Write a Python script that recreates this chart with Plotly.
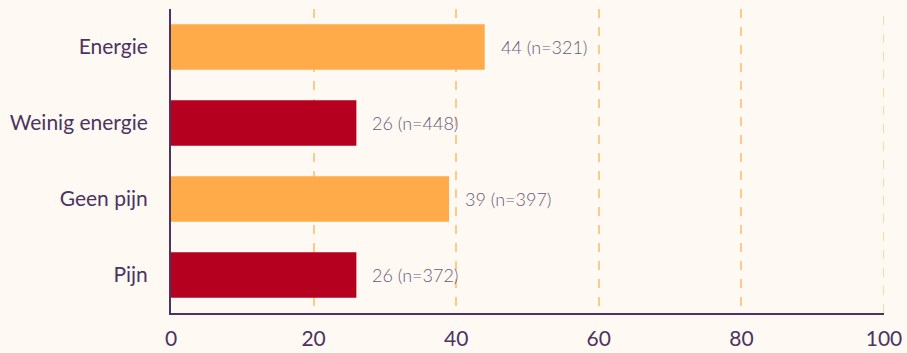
import plotly.graph_objects as go

categories = ["Energie", "Weinig energie", "Geen pijn", "Pijn"]
values = [44, 26, 39, 26]
counts = [321, 448, 397, 372]
colors = ["#FFAB4A", "#B5001F", "#FFAB4A", "#B5001F"]
x_ticks = [0, 20, 40, 60, 80, 100]

bg = "#FFF9F3"
txt = "#4B3462"
lbl = "#67597A"
grid = "#FFC98A"

fig = go.Figure()
fig.add_trace(go.Bar(
    y=categories, x=values, orientation="h",
    marker=dict(color=colors, line=dict(width=0)),
    width=0.6, hoverinfo="skip",
))
for c, v, n in zip(categories, values, counts):
    fig.add_annotation(x=v, y=c, text=f"{v} (n={n})", showarrow=False,
                       xanchor="left", xshift=14,
                       font=dict(family="Lato", size=18, color=lbl, weight=300))

# gridline at the right edge (plotly hides gridlines at the axis edge)
fig.add_shape(type="line", xref="x", yref="paper", x0=x_ticks[-1], x1=x_ticks[-1],
              y0=0, y1=1, line=dict(color=grid, width=1.5, dash="dash"), layer="below")

fig.update_layout(
    width=907, height=353,
    margin=dict(l=171, r=23, t=9, b=40),
    paper_bgcolor=bg, plot_bgcolor=bg,
    showlegend=False,
    font=dict(family="Lato", color=txt),
    xaxis=dict(range=[0, 100], tickvals=x_ticks, showgrid=True,
               gridcolor=grid, griddash="dash", gridwidth=1.5,
               zeroline=False, showline=True, linecolor=txt, linewidth=2,
               ticks="outside", ticklen=6, tickcolor="rgba(0,0,0,0)",
               tickfont=dict(size=21, color=txt), fixedrange=True,
               automargin=False),
    yaxis=dict(categoryorder="array", categoryarray=categories[::-1],
               showgrid=False, zeroline=False, showline=True,
               linecolor=txt, linewidth=2,
               ticks="outside", ticklen=17, tickcolor="rgba(0,0,0,0)",
               tickfont=dict(size=21, color=txt), fixedrange=True,
               automargin=False),
)
fig.write_html("out.html")
